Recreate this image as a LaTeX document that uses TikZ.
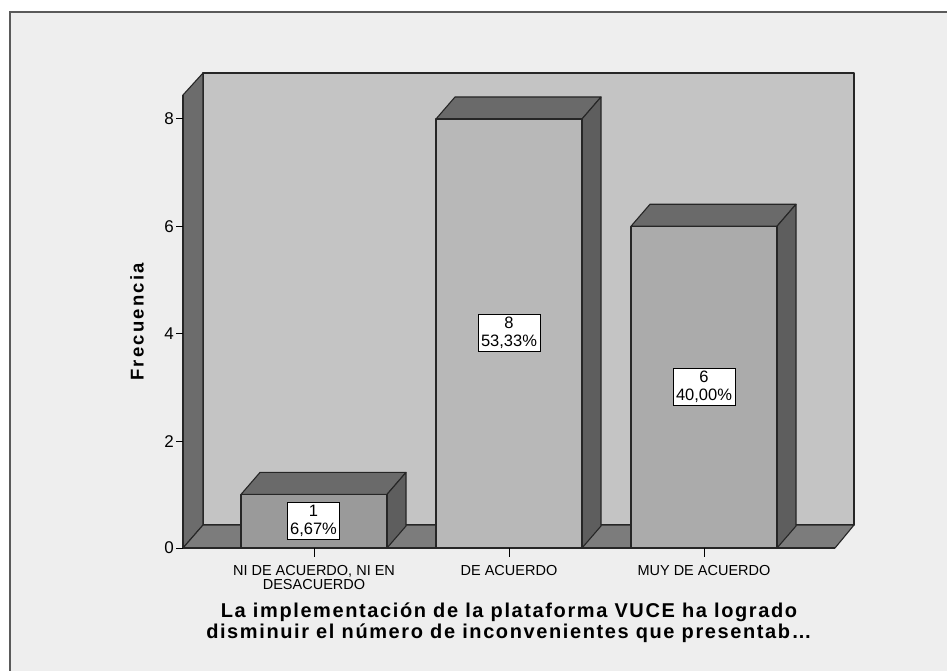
\documentclass[tikz,border=0pt]{standalone}
\usepackage{fontspec}
\setmainfont{Liberation Sans}
\definecolor{bgc}{HTML}{EEEEEE}
\definecolor{wallc}{HTML}{C4C4C4}
\definecolor{sidewall}{HTML}{6C6C6C}
\definecolor{floorc}{HTML}{7C7C7C}
\definecolor{topc}{HTML}{6A6A6A}
\definecolor{sidec}{HTML}{5E5E5E}
\definecolor{frontA}{HTML}{9A9A9A}
\definecolor{frontB}{HTML}{B8B8B8}
\definecolor{frontC}{HTML}{ABABAB}
\definecolor{framec}{HTML}{5A5A5A}
\begin{document}
\begin{tikzpicture}[x=1pt,y=-1pt,
  edge/.style={draw=black!85,line width=1.1pt,line join=round},
  lbl/.style={draw=black,fill=white,line width=0.8pt,align=center,inner xsep=3pt,inner ysep=3pt,
     font=\fontsize{16.5}{17.5}\selectfont},
  ticklbl/.style={anchor=east,inner sep=0pt,font=\fontsize{17}{18}\selectfont},
  catlbl/.style={anchor=north,align=center,inner sep=0pt,font=\fontsize{14.5}{14}\selectfont},
  tickline/.style={draw=black,line width=1pt}]
\useasboundingbox (0,0) rectangle (947,671);
\fill[white] (0,0) rectangle (947,671);
\fill[bgc] (10,12) rectangle (947,671);
\draw[framec,line width=2.5pt] (10,671) -- (10,12) -- (947,12);
% walls
\path[edge,fill=wallc] (203,73) rectangle (854,525);
\path[edge,fill=sidewall] (183,95) -- (203,73) -- (203,525) -- (183,548) -- cycle;
\path[edge,fill=floorc] (183,548) -- (203,525) -- (854,525) -- (835,548) -- cycle;
% bars: front left L, top T
\foreach \L/\T/\fc in {241/494.4/frontA, 436/119/frontB, 631/226.25/frontC}{
  \path[edge,fill=topc] (\L,\T) -- ({\L+19},{\T-22}) -- ({\L+165},{\T-22}) -- ({\L+146},\T) -- cycle;
  \path[edge,fill=sidec] ({\L+146},\T) -- ({\L+165},{\T-22}) -- ({\L+165},526) -- ({\L+146},548) -- cycle;
  \path[edge,fill=\fc] (\L,\T) rectangle ({\L+146},548);
}
\draw[edge] (183,95) -- (183,548) -- (835,548);
% y ticks
\foreach \v/\y in {0/548,2/441.75,4/333.5,6/226.25,8/119}{
  \draw[tickline] (176,\y) -- (183,\y);
  \node[ticklbl] (t\v) at (174,\y) {\v};
}
% x ticks
\foreach \x in {314,509,704}{
  \draw[tickline] (\x,548) -- (\x,557);
}
\node[catlbl] (c1) at (314,565) {NI DE ACUERDO, NI EN\\DESACUERDO};
\node[catlbl] (c2) at (509,565) {DE ACUERDO};
\node[catlbl] (c3) at (704,565) {MUY DE ACUERDO};
% value labels
\node[lbl] (v1) at (313.5,521) {1\\6,67\%};
\node[lbl] (v2) at (509,333) {8\\53,33\%};
\node[lbl] (v3) at (704,387) {6\\40,00\%};
% axis titles
\node[rotate=90,inner sep=0pt,font=\fontsize{18.5}{19}\selectfont\bfseries\addfontfeatures{LetterSpace=12}] (ytitle) at (137,322) {Frecuencia};
\node[align=center,inner sep=0pt,font=\fontsize{20}{21}\selectfont\bfseries\addfontfeatures{LetterSpace=8}] (xtitle) at (509,623)
  {La implementación de la plataforma VUCE ha logrado\\disminuir el número de inconvenientes que presentab\ldots};
\end{tikzpicture}
\end{document}
